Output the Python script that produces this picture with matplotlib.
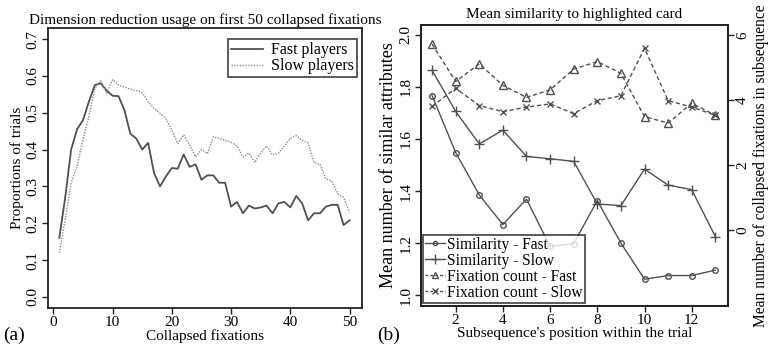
import numpy as np
import matplotlib
matplotlib.use("Agg")
import matplotlib.pyplot as plt
from matplotlib.lines import Line2D

plt.rcParams["font.family"] = ["Liberation Serif", "DejaVu Serif"]
plt.rcParams["font.size"] = 11

# ---------------------------------------------------------------------------
# Data
# ---------------------------------------------------------------------------
fixations = np.arange(1, 51)
fast_players = [0.16, 0.27, 0.40, 0.455, 0.48, 0.53, 0.575, 0.58, 0.56, 0.546,
                0.545, 0.507, 0.443, 0.43, 0.40, 0.418, 0.336, 0.30, 0.327, 0.35,
                0.348, 0.387, 0.353, 0.36, 0.318, 0.33, 0.33, 0.31, 0.31, 0.245,
                0.258, 0.227, 0.248, 0.24, 0.243, 0.248, 0.227, 0.254, 0.258, 0.243,
                0.274, 0.254, 0.208, 0.227, 0.227, 0.245, 0.25, 0.25, 0.195, 0.208]
slow_players = [0.12, 0.21, 0.31, 0.355, 0.427, 0.49, 0.566, 0.587, 0.553, 0.59,
                0.575, 0.57, 0.564, 0.56, 0.555, 0.53, 0.512, 0.498, 0.484, 0.453,
                0.416, 0.44, 0.413, 0.38, 0.40, 0.389, 0.435, 0.43, 0.425, 0.42,
                0.41, 0.38, 0.39, 0.365, 0.39, 0.41, 0.385, 0.39, 0.41, 0.43,
                0.438, 0.425, 0.418, 0.365, 0.36, 0.32, 0.315, 0.28, 0.27, 0.23]

positions = np.arange(1, 14)
sim_fast = [1.767, 1.548, 1.385, 1.271, 1.369, 1.187, 1.198, 1.363, 1.20, 1.061, 1.075, 1.075, 1.096]
sim_slow = [1.864, 1.706, 1.581, 1.634, 1.533, 1.524, 1.514, 1.350, 1.344, 1.484, 1.423, 1.405, 1.225]
fix_fast = [5.72, 4.57, 5.11, 4.45, 4.08, 4.31, 4.95, 5.18, 4.82, 3.49, 3.29, 3.90, 3.53]
fix_slow = [3.80, 4.36, 3.83, 3.64, 3.78, 3.88, 3.58, 3.98, 4.13, 5.59, 3.98, 3.78, 3.53]

DARK = "#505050"
LIGHT = "#8a8a8a"

fig = plt.figure(figsize=(7.71, 3.48), dpi=100)

def style_axis(ax):
    for s in ax.spines.values():
        s.set_linewidth(1.3)
        s.set_color("#222222")
    ax.tick_params(direction="out", length=4, width=1, color="#222222", pad=2)

# ---------------------------------------------------------------------------
# (a) Dimension reduction usage
# ---------------------------------------------------------------------------
ax1 = fig.add_axes([0.0623, 0.115, 0.4072, 0.8045])
ax1.plot(fixations, fast_players, color=DARK, lw=1.3, label="Fast players")
ax1.plot(fixations, slow_players, color=LIGHT, lw=1.0, ls=(0, (1, 1)), label="Slow players")
ax1.set_xlim(-0.9, 52.1)
ax1.set_ylim(-0.03, 0.73)
ax1.set_xticks([0, 10, 20, 30, 40, 50])
ax1.set_yticks(np.arange(0, 0.71, 0.1))
ax1.set_yticklabels(["%.1f" % v for v in np.arange(0, 0.71, 0.1)], rotation=90, va="center")
ax1.set_xlabel("Collapsed fixations", labelpad=0)
ax1.set_ylabel("Proportions of trials", labelpad=2)
ax1.set_title("Dimension reduction usage on first 50 collapsed fixations", fontsize=11, pad=3)
style_axis(ax1)
leg1 = ax1.legend(loc="upper right", bbox_to_anchor=(0.984, 0.961), fancybox=False,
                  edgecolor="#222222", handlelength=2.0, borderpad=0.2,
                  labelspacing=0.0, handletextpad=0.5, borderaxespad=0.0, fontsize=11.5)
leg1.get_frame().set_linewidth(1.3)

# ---------------------------------------------------------------------------
# (b) Mean similarity to highlighted card
# ---------------------------------------------------------------------------
ax2 = fig.add_axes([0.546, 0.1207, 0.398, 0.8073])
ax3 = ax2.twinx()
l1, = ax2.plot(positions, sim_fast, color=DARK, lw=1.0, marker="o", ms=4,
               mfc="none", mew=1.0, label="Similarity - Fast")
l2, = ax2.plot(positions, sim_slow, color=DARK, lw=1.0, marker="+", ms=6.5,
               mew=1.0, label="Similarity - Slow")
l3, = ax3.plot(positions, fix_fast, color=DARK, lw=1.0, ls=(0, (3, 2)), marker="^",
               ms=5.5, mfc="none", mew=1.0, label="Fixation count - Fast")
l4, = ax3.plot(positions, fix_slow, color=DARK, lw=1.0, ls=(0, (3, 2)), marker="x",
               ms=4.5, mew=1.0, label="Fixation count - Slow")
ax2.set_xlim(0.53, 13.53)
ax2.set_ylim(0.958, 2.038)
ax3.set_ylim((0.958 - 1.25) * 8, (2.038 - 1.25) * 8)
ax2.set_xticks([2, 4, 6, 8, 10, 12])
ax2.set_yticks(np.arange(1.0, 2.01, 0.2))
ax2.set_yticklabels(["%.1f" % v for v in np.arange(1.0, 2.01, 0.2)], rotation=90, va="center")
ax3.set_yticks([0, 2, 4, 6])
ax3.set_yticklabels(["0", "2", "4", "6"], rotation=90, va="center")
ax2.set_xlabel("Subsequence's position within the trial", labelpad=0)
ax2.set_ylabel("Mean number of similar attributes", labelpad=2, fontsize=13)
ax3.set_ylabel("Mean number of collapsed fixations in subsequence", labelpad=3, fontsize=11.2)
ax2.set_title("Mean similarity to highlighted card", fontsize=11, pad=5)
style_axis(ax2)
style_axis(ax3)
handles = [
    Line2D([], [], color=DARK, lw=1.0, marker="o", ms=3, mfc="none"),
    Line2D([], [], color=DARK, lw=1.0, marker="+", ms=7),
    Line2D([], [], color=DARK, lw=1.0, ls=(0, (2, 1.5)), marker="^", ms=4, mfc="none"),
    Line2D([], [], color=DARK, lw=1.0, ls=(0, (2, 1.5)), marker="x", ms=4),
]
leg2 = ax3.legend(handles, [l1.get_label(), l2.get_label(), l3.get_label(), l4.get_label()],
                  loc="lower left", bbox_to_anchor=(0.005, 0.01), fancybox=False,
                  edgecolor="#222222", handlelength=1.3, borderpad=0.15,
                  labelspacing=0.0, handletextpad=0.1, borderaxespad=0.0, fontsize=11.2)
leg2.get_frame().set_linewidth(1.3)

fig.text(0.004, 0.022, "(a)", fontsize=14)
fig.text(0.489, 0.022, "(b)", fontsize=14)

fig.savefig("out.png", dpi=100)
